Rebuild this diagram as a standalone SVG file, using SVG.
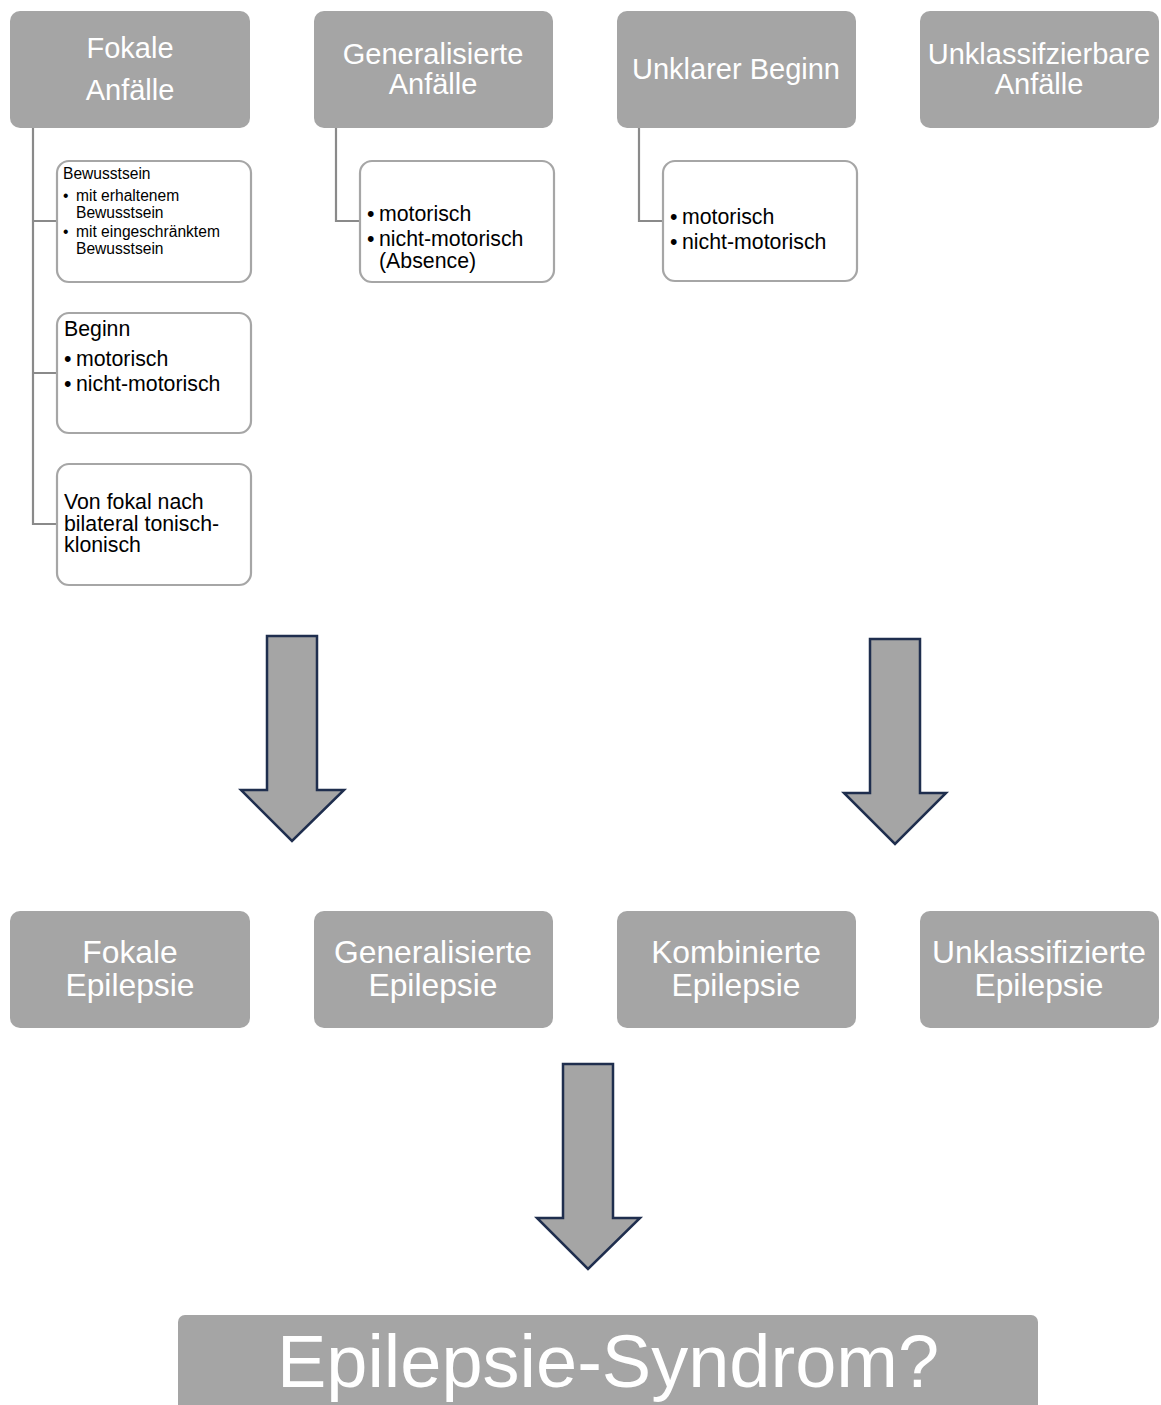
<svg xmlns="http://www.w3.org/2000/svg" width="1161" height="1405" viewBox="0 0 1161 1405">
<style>
.hdr{fill:#a5a5a5}
.child{fill:#ffffff;stroke:#a6a6a6;stroke-width:2.2}
.wt{fill:#ffffff;font-family:"Liberation Sans",Arial,sans-serif;text-anchor:middle}
.bt{fill:#000000;font-family:"Liberation Sans",Arial,sans-serif}
.conn{fill:none;stroke:#8a8a8a;stroke-width:2.2}
.arrow{fill:#a5a5a5;stroke:#1f2e4e;stroke-width:2.5;stroke-linejoin:miter}
</style>
<rect width="1161" height="1405" fill="#ffffff"/>
<g id="connectors">
<path class="conn" d="M33,128 V524 H57 M33,221 H57 M33,373 H57"/>
<path class="conn" d="M336,128 V221 H360"/>
<path class="conn" d="M639,128 V221 H663"/>
<path class="arrow" d="M267,636 H317 V790 H344 L292,841 L241,790 H267 Z"/>
<path class="arrow" d="M870,639 H920 V793 H946 L895,844 L844,793 H870 Z"/>
<path class="arrow" d="M563,1064 H613 V1218 H640 L588,1269 L537,1218 H563 Z"/>
</g>
<g id="fokale-anfaelle">
<rect class="hdr" x="10" y="11" width="240" height="117" rx="10"/>
<text class="wt" font-size="29"><tspan x="130" y="58">Fokale</tspan><tspan x="130" y="100">Anfälle</tspan></text>
</g>
<g id="generalisierte-anfaelle">
<rect class="hdr" x="314" y="11" width="239" height="117" rx="10"/>
<text class="wt" font-size="29"><tspan x="433" y="64">Generalisierte</tspan><tspan x="433" y="94">Anfälle</tspan></text>
</g>
<g id="unklarer-beginn">
<rect class="hdr" x="617" y="11" width="239" height="117" rx="10"/>
<text class="wt" font-size="29" x="736" y="79">Unklarer Beginn</text>
</g>
<g id="unklassifizierbare-anfaelle">
<rect class="hdr" x="920" y="11" width="239" height="117" rx="10"/>
<text class="wt" font-size="29"><tspan x="1039" y="64">Unklassifzierbare</tspan><tspan x="1039" y="94">Anfälle</tspan></text>
</g>
<g id="bewusstsein">
<rect class="child" x="57" y="161" width="194" height="121" rx="12"/>
<text class="bt" font-size="15.6">
<tspan x="63" y="179">Bewusstsein</tspan>
<tspan x="63" y="201">•</tspan><tspan x="76" y="201">mit erhaltenem</tspan>
<tspan x="76" y="218">Bewusstsein</tspan>
<tspan x="63" y="237">•</tspan><tspan x="76" y="237">mit eingeschränktem</tspan>
<tspan x="76" y="254">Bewusstsein</tspan>
</text>
</g>
<g id="beginn">
<rect class="child" x="57" y="313" width="194" height="120" rx="12"/>
<text class="bt" font-size="21.3">
<tspan x="64" y="336">Beginn</tspan>
<tspan x="64" y="366">•</tspan><tspan x="76" y="366">motorisch</tspan>
<tspan x="64" y="391">•</tspan><tspan x="76" y="391">nicht-motorisch</tspan>
</text>
</g>
<g id="von-fokal">
<rect class="child" x="57" y="464" width="194" height="121" rx="12"/>
<text class="bt" font-size="21.3">
<tspan x="64" y="509">Von fokal nach</tspan>
<tspan x="64" y="531">bilateral tonisch-</tspan>
<tspan x="64" y="552">klonisch</tspan>
</text>
</g>
<g id="generalisiert-child">
<rect class="child" x="360" y="161" width="194" height="121" rx="12"/>
<text class="bt" font-size="21.3">
<tspan x="367" y="221">•</tspan><tspan x="379" y="221">motorisch</tspan>
<tspan x="367" y="246">•</tspan><tspan x="379" y="246">nicht-motorisch</tspan>
<tspan x="379" y="268">(Absence)</tspan>
</text>
</g>
<g id="unklar-child">
<rect class="child" x="663" y="161" width="194" height="120" rx="12"/>
<text class="bt" font-size="21.3">
<tspan x="670" y="224">•</tspan><tspan x="682" y="224">motorisch</tspan>
<tspan x="670" y="249">•</tspan><tspan x="682" y="249">nicht-motorisch</tspan>
</text>
</g>
<g id="fokale-epilepsie">
<rect class="hdr" x="10" y="911" width="240" height="117" rx="10"/>
<text class="wt" font-size="31.8"><tspan x="130" y="963">Fokale</tspan><tspan x="130" y="996">Epilepsie</tspan></text>
</g>
<g id="generalisierte-epilepsie">
<rect class="hdr" x="314" y="911" width="239" height="117" rx="10"/>
<text class="wt" font-size="31.8"><tspan x="433" y="963">Generalisierte</tspan><tspan x="433" y="996">Epilepsie</tspan></text>
</g>
<g id="kombinierte-epilepsie">
<rect class="hdr" x="617" y="911" width="239" height="117" rx="10"/>
<text class="wt" font-size="31.8"><tspan x="736" y="963">Kombinierte</tspan><tspan x="736" y="996">Epilepsie</tspan></text>
</g>
<g id="unklassifizierte-epilepsie">
<rect class="hdr" x="920" y="911" width="239" height="117" rx="10"/>
<text class="wt" font-size="31.8"><tspan x="1039" y="963">Unklassifizierte</tspan><tspan x="1039" y="996">Epilepsie</tspan></text>
</g>
<g id="epilepsie-syndrom">
<rect class="hdr" x="178" y="1315" width="860" height="120" rx="7"/>
<text class="wt" font-size="74" x="608" y="1387">Epilepsie-Syndrom?</text>
</g>
</svg>
